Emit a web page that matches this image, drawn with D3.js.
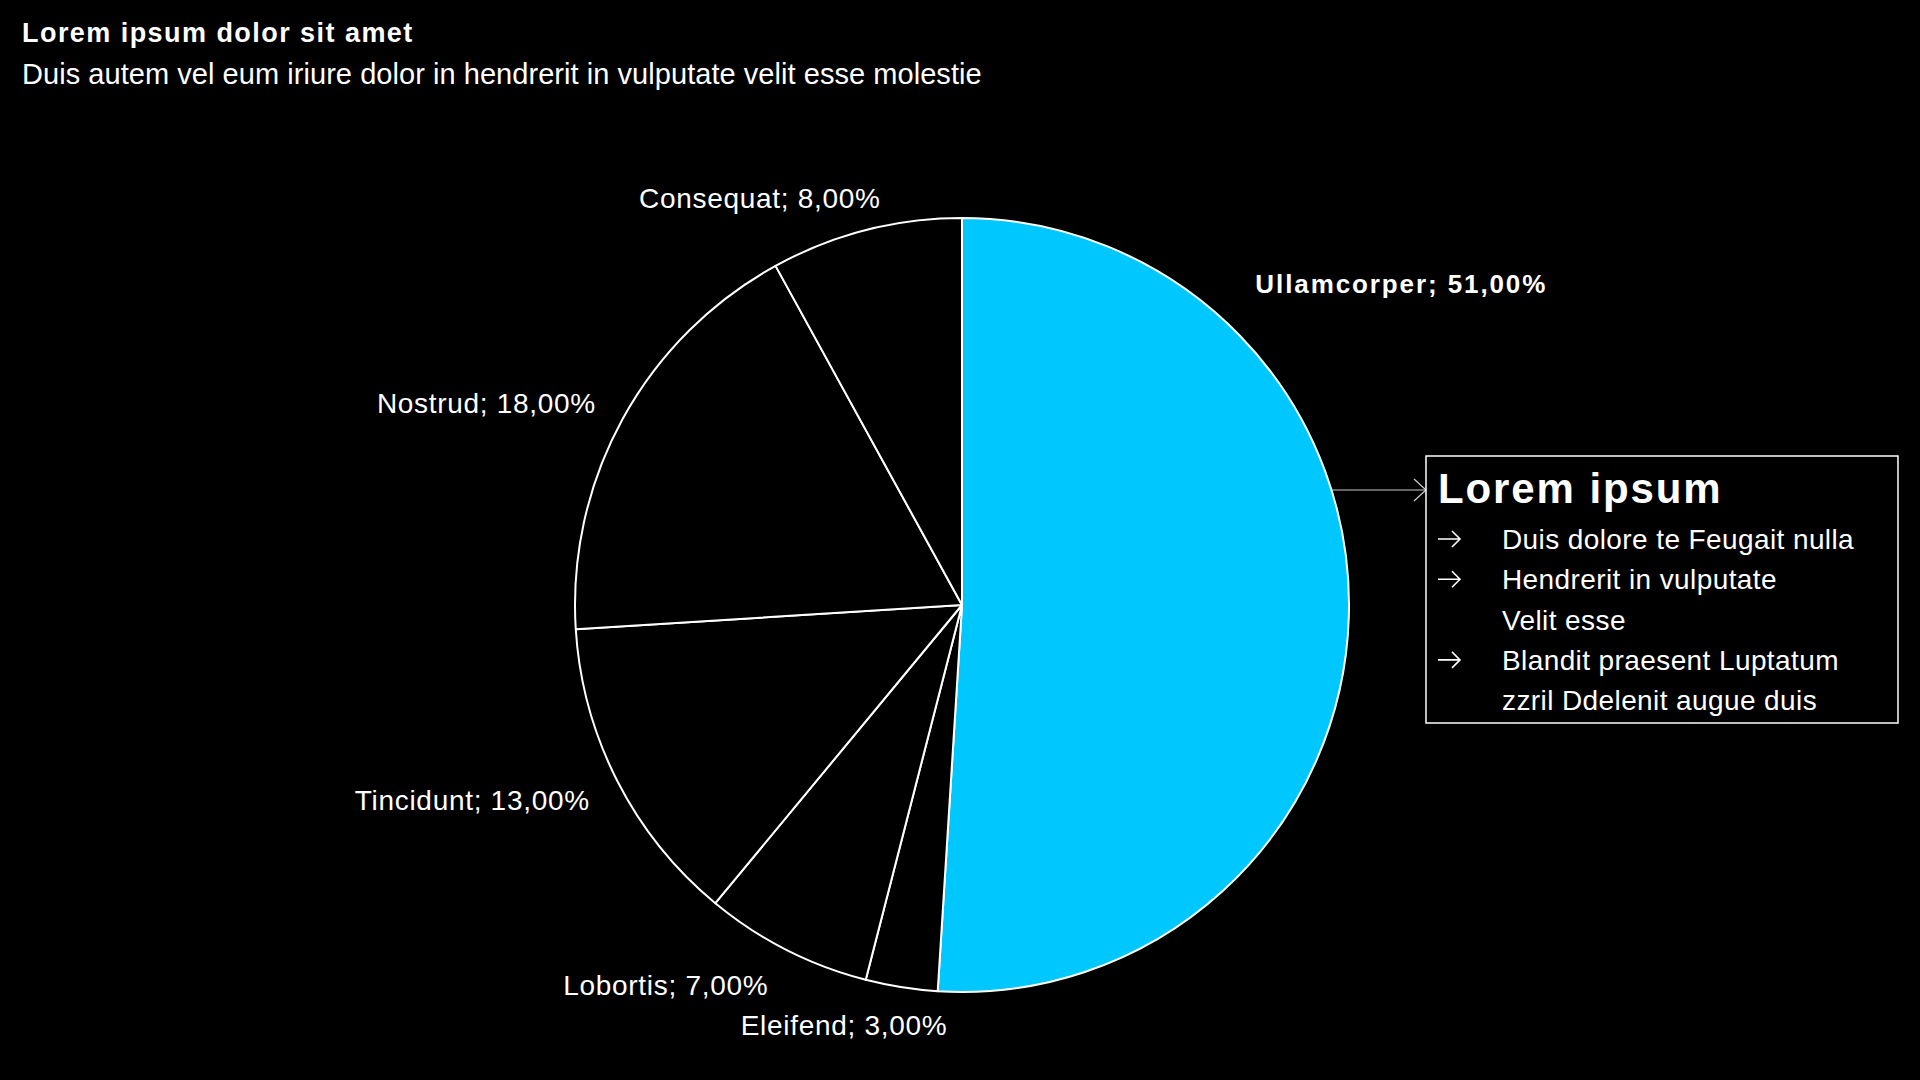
<!DOCTYPE html>
<html>
<head>
<meta charset="utf-8">
<script src="https://cdn.jsdelivr.net/npm/d3@7"></script>
<style>
  html, body { margin: 0; padding: 0; background: #000; }
  svg { display: block; font-family: "Liberation Sans", Helvetica, Arial, sans-serif; }
</style>
</head>
<body>
<div class="chart"></div>
<script>
// Data
const categories = ["Ullamcorper", "Eleifend", "Lobortis", "Tincidunt", "Nostrud", "Consequat"];
const shares = [51, 3, 7, 13, 18, 8];
const calloutTitle = "Lorem ipsum";
const calloutLines = [
  { arrow: true, text: "Duis dolore te Feugait nulla" },
  { arrow: true, text: "Hendrerit in vulputate" },
  { arrow: false, text: "Velit esse" },
  { arrow: true, text: "Blandit praesent Luptatum" },
  { arrow: false, text: "zzril Ddelenit augue duis" }
];

const width = 1920;
const height = 1080;
const cx = 962, cy = 605, radius = 387;
const cyan = "#00c8ff";

// small nudges so labels sit where the original puts them
const nudge = {
  Eleifend: [51, 5],
  Lobortis: [-3, 6],
  Tincidunt: [2, 5],
  Nostrud: [2, 1],
  Consequat: [23, 0]
};

const pct = (v) => d3.format(".2f")(v).replace(".", ",") + "%";

const svg = d3
  .select(".chart")
  .append("svg")
  .attr("width", width)
  .attr("height", height);

svg.append("rect").attr("width", width).attr("height", height).attr("fill", "#000");

// Title
svg
  .append("text")
  .attr("x", 22)
  .attr("y", 42)
  .attr("fill", "#fff")
  .attr("font-size", 27)
  .attr("font-weight", "bold")
  .attr("letter-spacing", 1.45)
  .text("Lorem ipsum dolor sit amet");

svg
  .append("text")
  .attr("x", 22)
  .attr("y", 84)
  .attr("fill", "#fff")
  .attr("font-size", 29)
  .attr("letter-spacing", 0.05)
  .text("Duis autem vel eum iriure dolor in hendrerit in vulputate velit esse molestie");

const data = categories.map((c, i) => ({ name: c, value: shares[i] }));

const pie = d3.pie().sort(null).value((d) => d.value);
const arcs = pie(data);

const arc = d3.arc().innerRadius(0).outerRadius(radius);
const labelArc = d3.arc().innerRadius(420).outerRadius(420);

const g = svg.append("g").attr("transform", `translate(${cx},${cy})`);

g.selectAll("path.slice")
  .data(arcs)
  .enter()
  .append("path")
  .attr("class", "slice")
  .attr("d", arc)
  .attr("fill", (d, i) => (i === 0 ? cyan : "#000"))
  .attr("stroke", "#fff")
  .attr("stroke-width", 2)
  .attr("stroke-linejoin", "round");

// Labels
g.selectAll("text.label")
  .data(arcs.slice(1))
  .enter()
  .append("text")
  .attr("class", "label")
  .each(function (d) {
    const [x, y] = labelArc.centroid(d);
    const n = nudge[d.data.name] || [0, 0];
    d3.select(this)
      .attr("x", x + n[0])
      .attr("y", y + n[1])
      .attr("dy", "0.35em")
      .attr("text-anchor", "end");
  })
  .attr("fill", "#fff")
  .attr("font-size", 28)
  .attr("letter-spacing", 0.7)
  .text((d) => `${d.data.name}; ${pct(d.data.value)}`);

// big slice label, placed up and to the right of the slice
const big = arcs[0];
const bigAngle = 0.94;
const bigR = 544;
g.append("text")
  .attr("x", bigR * Math.sin(bigAngle))
  .attr("y", -bigR * Math.cos(bigAngle))
  .attr("dy", "0.35em")
  .attr("text-anchor", "middle")
  .attr("fill", "#fff")
  .attr("font-size", 26)
  .attr("font-weight", "bold")
  .attr("letter-spacing", 1.9)
  .text(`${big.data.name}; ${pct(big.data.value)}`);

// Callout box
const box = { x: 1426, y: 456, w: 472, h: 267 };
const lineY = 490;
const edgeX = cx + Math.sqrt(radius * radius - (lineY - cy) * (lineY - cy));

svg
  .append("line")
  .attr("x1", edgeX)
  .attr("y1", lineY)
  .attr("x2", box.x)
  .attr("y2", lineY)
  .attr("stroke", "#ccc")
  .attr("stroke-width", 1.2);

svg
  .append("path")
  .attr("d", `M${box.x - 12},${lineY - 11}L${box.x},${lineY}L${box.x - 12},${lineY + 11}`)
  .attr("fill", "none")
  .attr("stroke", "#ccc")
  .attr("stroke-width", 1.2);

svg
  .append("rect")
  .attr("x", box.x)
  .attr("y", box.y)
  .attr("width", box.w)
  .attr("height", box.h)
  .attr("fill", "#000")
  .attr("stroke", "#fff")
  .attr("stroke-width", 1.5);

svg
  .append("text")
  .attr("x", box.x + 12)
  .attr("y", box.y + 47)
  .attr("fill", "#fff")
  .attr("font-size", 42)
  .attr("font-weight", "bold")
  .attr("letter-spacing", 1.9)
  .text(calloutTitle);

const rows = svg
  .append("g")
  .selectAll("g")
  .data(calloutLines)
  .enter()
  .append("g")
  .attr("transform", (d, i) => `translate(${box.x + 12},${box.y + 93 + i * 40.3})`);

// bullet arrows
rows
  .filter((d) => d.arrow)
  .append("path")
  .attr("d", "M0,-10H22M14,-18L22,-10L14,-2")
  .attr("fill", "none")
  .attr("stroke", "#fff")
  .attr("stroke-width", 1.6);

rows
  .append("text")
  .attr("x", 64)
  .attr("fill", "#fff")
  .attr("font-size", 28)
  .attr("letter-spacing", 0.4)
  .text((d) => d.text);
</script>
</body>
</html>
